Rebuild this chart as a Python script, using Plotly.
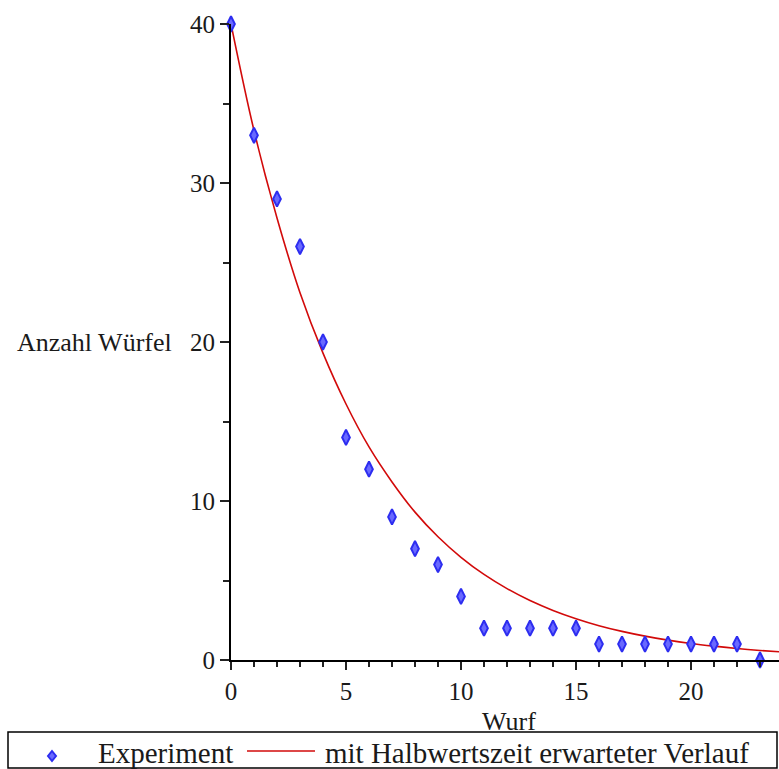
import plotly.graph_objects as go

# Experiment data
wurf = list(range(0, 24))
anzahl = [40, 33, 29, 26, 20, 14, 12, 9, 7, 6, 4, 2, 2, 2, 2, 2, 1, 1, 1, 1, 1, 1, 1, 0]

# expected curve (half-life model), read at integer throws
kurve_x = list(range(0, 25))
kurve_y = [40.0, 33.3, 27.8, 23.1, 19.3, 16.1, 13.4, 11.2, 9.3, 7.75, 6.46, 5.38, 4.49,
           3.74, 3.12, 2.60, 2.16, 1.80, 1.50, 1.25, 1.04, 0.87, 0.72, 0.60, 0.50]

legend_names = ["Experiment", "mit Halbwertszeit erwarteter Verlauf"]

FONT = "'Liberation Serif', 'Times New Roman', serif"
W, H = 779, 769
L, R, T, B = 231, 0, 24, 109
pw = W - L - R
ph = H - T - B

MARK_FILL = "rgb(105,105,255)"
MARK_LINE = "rgb(45,45,240)"
RED = "rgb(210,10,10)"
TXT = "#1a1a1a"


def px_x(x):
    return (x - L) / pw


def px_y(y):
    return (H - B - y) / ph


fig = go.Figure()
fig.add_trace(go.Scatter(
    x=kurve_x, y=kurve_y, mode="lines", name=legend_names[1],
    line=dict(color=RED, width=1.6, shape="spline"),
))
fig.add_trace(go.Scatter(
    x=wurf, y=anzahl, mode="markers", name=legend_names[0],
    marker=dict(symbol="diamond-tall", size=11, color=MARK_FILL,
                line=dict(color=MARK_LINE, width=2)),
    cliponaxis=False,
))

# manual legend (drawn in paper coordinates so it does not shrink the plot)
ly = 753
legend_shapes = [
    dict(type="rect", xref="paper", yref="paper",
         x0=px_x(8), x1=px_x(777), y0=px_y(732), y1=px_y(768),
         line=dict(color="black", width=1.5), fillcolor="rgba(0,0,0,0)"),
    dict(type="path", xref="paper", yref="paper",
         path="M {} {} L {} {} L {} {} L {} {} Z".format(
             px_x(52), px_y(ly - 2), px_x(56), px_y(ly + 3),
             px_x(52), px_y(ly + 8), px_x(48), px_y(ly + 3)),
         line=dict(color=MARK_LINE, width=2), fillcolor=MARK_FILL),
    dict(type="line", xref="paper", yref="paper",
         x0=px_x(247), x1=px_x(315), y0=px_y(ly - 2), y1=px_y(ly - 2),
         line=dict(color=RED, width=1.6)),
]

fig.update_layout(
    width=W, height=H,
    margin=dict(l=L, r=R, t=T, b=B, autoexpand=False),
    paper_bgcolor="white", plot_bgcolor="white",
    font=dict(family=FONT, color=TXT, size=25),
    showlegend=False,
    xaxis=dict(
        range=[0, pw / 23.0], showgrid=False, zeroline=False,
        showline=True, linecolor="black", linewidth=2,
        tickmode="array", tickvals=[0, 5, 10, 15, 20],
        ticks="outside", ticklen=8, tickwidth=2, tickcolor="#222",
        minor=dict(tickmode="array", tickvals=list(range(0, 24)), ticks="outside",
                   ticklen=5, tickwidth=2, tickcolor="#222"),
        tickfont=dict(family=FONT, size=25, color=TXT),
    ),
    yaxis=dict(
        range=[0, 40], showgrid=False, zeroline=False,
        showline=True, linecolor="black", linewidth=2,
        tickmode="array", tickvals=[0, 10, 20, 30, 40],
        ticks="outside", ticklen=9, tickwidth=2, tickcolor="#222",
        minor=dict(tickmode="array", tickvals=[5, 15, 25, 35], ticks="outside",
                   ticklen=6, tickwidth=2, tickcolor="#222"),
        tickfont=dict(family=FONT, size=25, color=TXT),
    ),
    annotations=[
        dict(text="Anzahl Würfel", xref="paper", yref="y", x=px_x(15), y=20,
             xanchor="left", yanchor="middle", showarrow=False,
             font=dict(family=FONT, size=26, color=TXT)),
        dict(text="Wurf", xref="paper", yref="paper", x=px_x(509), y=px_y(721),
             xanchor="center", yanchor="middle", showarrow=False,
             font=dict(family=FONT, size=26, color=TXT)),
        dict(text=legend_names[0], xref="paper", yref="paper", x=px_x(96), y=px_y(ly),
             xanchor="left", yanchor="middle", showarrow=False,
             font=dict(family=FONT, size=29, color=TXT)),
        dict(text=legend_names[1], xref="paper", yref="paper", x=px_x(323), y=px_y(ly),
             xanchor="left", yanchor="middle", showarrow=False,
             font=dict(family=FONT, size=29, color=TXT)),
    ],
    shapes=legend_shapes,
)

fig.write_html("out.html")
